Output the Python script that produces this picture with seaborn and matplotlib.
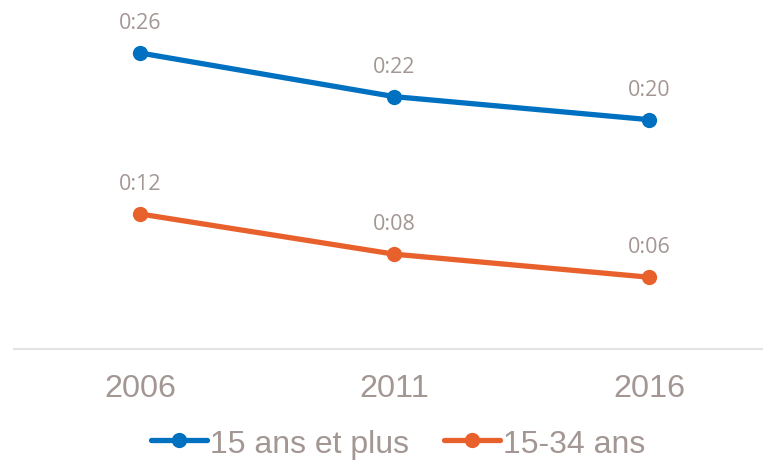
import matplotlib
matplotlib.use("Agg")
import matplotlib.pyplot as plt
import seaborn as sns
import pandas as pd

years = ["2006", "2011", "2016"]
series_names = ["15 ans et plus", "15-34 ans"]
values_all = [25.7, 21.9, 19.9]      # minutes
values_young = [11.7, 8.2, 6.2]      # minutes
colors = ["#0070C0", "#E8612C"]
text_color = "#A39794"

sns.set_theme(style="white")
plt.rcParams["font.family"] = ["Liberation Sans", "DejaVu Sans"]

rows = []
for name, vals in zip(series_names, [values_all, values_young]):
    for i, (y, v) in enumerate(zip(years, vals)):
        rows.append({"x": i, "year": y, "serie": name, "minutes": v})
df = pd.DataFrame(rows)

fig = plt.figure(figsize=(7.63, 4.64), dpi=100)
ax = fig.add_axes([14 / 763, 1 - 349.5 / 464, 1 - 14 / 763, (349.5 - 4.5) / 464])

sns.lineplot(data=df, x="x", y="minutes", hue="serie", palette=colors,
             marker="o", markersize=11, linewidth=3.8, markeredgewidth=0,
             ax=ax, legend=False)

for name, vals in zip(series_names, [values_all, values_young]):
    for i, v in enumerate(vals):
        ax.annotate(f"0:{round(v):02d}", (i, v), xytext=(0, 22),
                    textcoords="offset points", ha="center", va="center",
                    fontsize=15.5, color=text_color, family=["Open Sans", "DejaVu Sans"])

ax.set_xlim(-0.495, 2.448)
ax.set_ylim(0, 30)
ax.set_xticks(range(len(years)))
ax.set_xticklabels(years)
ax.set_yticks([])
ax.set_xlabel("")
ax.set_ylabel("")
ax.tick_params(axis="x", length=0, pad=17.5, labelsize=23.3, labelcolor=text_color)
for s in ["top", "left", "right"]:
    ax.spines[s].set_visible(False)
ax.spines["bottom"].set_color("#E3E3E3")
ax.spines["bottom"].set_linewidth(1.5)

handles = [plt.Line2D([], [], color=c, marker="o", markersize=11, linewidth=3.8,
                      markeredgewidth=0) for c in colors]
leg = fig.legend(handles, series_names, loc="center", bbox_to_anchor=(0.522, 0.042),
                 ncol=2, frameon=False, fontsize=23, handlelength=1.75,
                 handletextpad=0.1, columnspacing=1.1, borderpad=0)
for t in leg.get_texts():
    t.set_color(text_color)

fig.savefig("out.png", dpi=100)
